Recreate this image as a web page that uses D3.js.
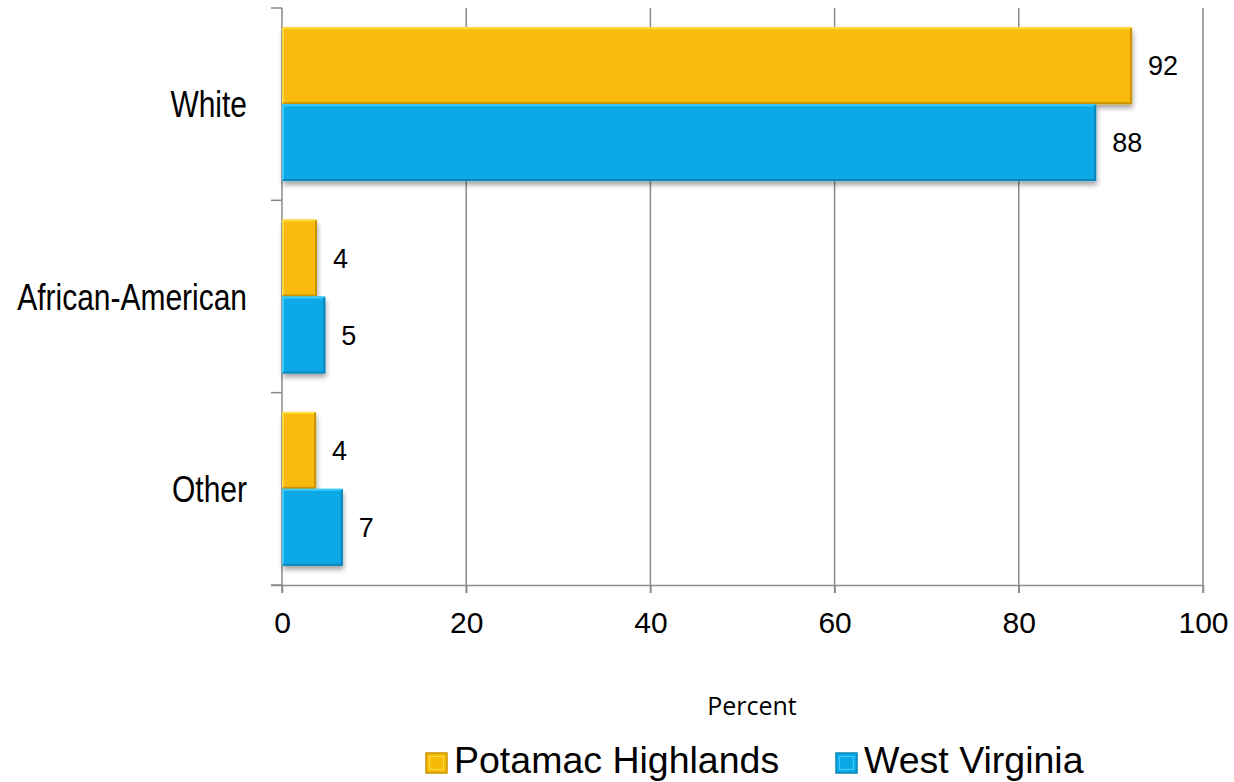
<!DOCTYPE html>
<html><head><meta charset="utf-8">
<script src="https://cdn.jsdelivr.net/npm/d3@7"></script>
<style>body{margin:0;background:#fff;} svg{display:block;}</style>
</head><body>
<svg id="chart" width="1234" height="782"></svg>
<script>
const categories = ["White", "African-American", "Other"];
const seriesNames = ["Potamac Highlands", "West Virginia"];
const potamacValues = [92.3, 3.8, 3.7];
const wvValues = [88.4, 4.7, 6.6];
const xTicks = [0, 20, 40, 60, 80, 100];
const colors = ["#F8BA08", "#0AA9E6"];
const lightEdge = ["#FFD83A", "#3CCBFF"];
const darkEdge = ["#C99400", "#0A86B8"];

const svg = d3.select("#chart");
const x = d3.scaleLinear().domain([0, 100]).range([282, 1203]);
const y0 = d3.scaleBand().domain(categories).range([8, 585]).paddingInner(0).paddingOuter(0);
const y1 = d3.scaleBand().domain(seriesNames).range([0, y0.bandwidth()]).paddingOuter(0.25).paddingInner(0);

const defs = svg.append("defs");
const f = defs.append("filter").attr("id","shadow").attr("x","-10%").attr("y","-10%").attr("width","130%").attr("height","140%");
f.append("feGaussianBlur").attr("in","SourceAlpha").attr("stdDeviation",2.5).attr("result","b");
f.append("feOffset").attr("in","b").attr("dx",1).attr("dy",4).attr("result","o");
f.append("feComponentTransfer").attr("in","o").attr("result","o2").append("feFuncA").attr("type","linear").attr("slope",0.35);
const m = f.append("feMerge"); m.append("feMergeNode").attr("in","o2"); m.append("feMergeNode").attr("in","SourceGraphic");

// gridlines
svg.append("g").selectAll("line").data(xTicks.filter(d=>d>0)).join("line")
  .attr("x1", d=>x(d)).attr("x2", d=>x(d)).attr("y1", 8).attr("y2", 593)
  .attr("stroke", "#8a8a8a").attr("stroke-width", 1.5);

// bottom axis
const xAxis = d3.axisBottom(x).tickValues(xTicks).tickSize(8).tickPadding(18).tickSizeOuter(0);
const gx = svg.append("g").attr("transform","translate(0,585)").call(xAxis);
gx.select(".domain").attr("d","M271,0.5H1203").attr("stroke","#8a8a8a").attr("stroke-width",1.5);
gx.selectAll(".tick line").attr("stroke","#8a8a8a").attr("stroke-width",1.5);
gx.selectAll(".tick text").attr("font-family","Liberation Sans, Arial, sans-serif").attr("font-size",30).attr("fill","#000").attr("dy","0.73em");

// left axis
const gy = svg.append("g").attr("transform","translate(282,0)");
gy.append("line").attr("x1",0).attr("x2",0).attr("y1",8).attr("y2",593).attr("stroke","#8a8a8a").attr("stroke-width",1.5);
const bounds = [8].concat(categories.map(c=>y0(c)+y0.bandwidth()));
gy.selectAll("line.tk").data(bounds).join("line").attr("class","tk")
  .attr("x1",-11).attr("x2",0).attr("y1",d=>d).attr("y2",d=>d).attr("stroke","#8a8a8a").attr("stroke-width",1.5);
gy.selectAll("text.cat").data(categories).join("text").attr("class","cat")
  .attr("transform", d=>`translate(-35,${y0(d)+y0.bandwidth()/2}) scale(0.81,1)`)
  .attr("text-anchor","end").attr("dy","0.36em")
  .attr("font-family","Liberation Sans, Arial, sans-serif").attr("font-size",37).attr("fill","#000")
  .text(d=>d);

// bars
const rows = [];
categories.forEach((c,i)=>{
  rows.push({cat:c, s:0, v:potamacValues[i]});
  rows.push({cat:c, s:1, v:wvValues[i]});
});
const bars = svg.append("g").selectAll("g").data(rows).join("g")
  .attr("transform", d=>`translate(0,${y0(d.cat)+y1(seriesNames[d.s])})`);
bars.append("rect").attr("x", x(0)).attr("y",0)
  .attr("width", d=>x(d.v)-x(0)).attr("height", y1.bandwidth())
  .attr("fill", d=>colors[d.s]).attr("filter","url(#shadow)");
bars.append("path").attr("fill","none").attr("stroke",d=>lightEdge[d.s]).attr("stroke-width",2)
  .attr("d", d=>`M${x(0)+1},${y1.bandwidth()-1}V1H${x(d.v)-1}`);
bars.append("path").attr("fill","none").attr("stroke",d=>darkEdge[d.s]).attr("stroke-width",2)
  .attr("d", d=>`M${x(d.v)-1},1V${y1.bandwidth()-1}H${x(0)+1}`);
bars.append("text").attr("x", d=>x(d.v)+16).attr("y", y1.bandwidth()/2).attr("dy","0.36em")
  .attr("font-family","Liberation Sans, Arial, sans-serif").attr("font-size",27).attr("fill","#000")
  .text(d=>d3.format(".0f")(d.v));

// axis title
svg.append("text").attr("x",752).attr("y",715).attr("text-anchor","middle")
  .attr("font-family","Open Sans, sans-serif").attr("font-size",25).attr("fill","#000").text("Percent");

// legend
const legendX = [426, 836];
const lg = svg.append("g").selectAll("g").data(seriesNames).join("g")
  .attr("transform",(d,i)=>`translate(${legendX[i]},0)`);
lg.append("rect").attr("x",0).attr("y",753).attr("width",21).attr("height",20)
  .attr("fill",(d,i)=>colors[i]).attr("stroke",(d,i)=>darkEdge[i]).attr("stroke-width",1.5);
lg.append("rect").attr("x",3.5).attr("y",756.5).attr("width",14).attr("height",13)
  .attr("fill","none").attr("stroke",(d,i)=>lightEdge[i]).attr("stroke-width",1.2);
lg.append("text").attr("x",28).attr("y",773)
  .attr("font-family","Liberation Sans, Arial, sans-serif").attr("font-size",37.5).attr("fill","#000")
  .text(d=>d);
</script>
</body></html>
